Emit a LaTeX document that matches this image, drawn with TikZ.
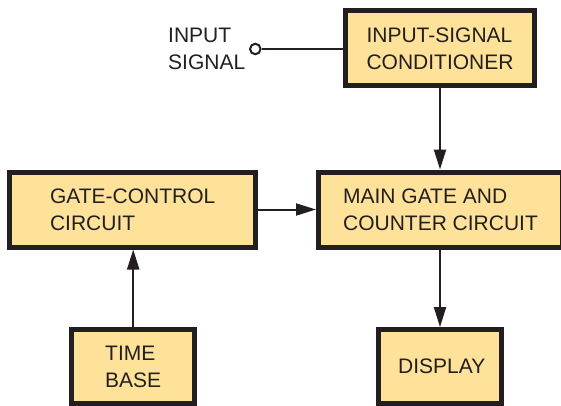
\documentclass[tikz,border=0pt]{standalone}
\usepackage{fontspec}
\setmainfont{Liberation Sans}
\usetikzlibrary{arrows.meta}
\definecolor{boxfill}{RGB}{254,226,153}
\definecolor{ink}{RGB}{35,31,32}
\tikzset{
  blk/.style={draw=ink, line width=5pt, fill=boxfill, inner sep=0pt,
    align=left, text=ink, font=\fontsize{21}{27}\selectfont},
  conn/.style={draw=ink, line width=2pt, -{Triangle[length=20pt,width=12pt]}},
  wire/.style={draw=ink, line width=2pt},
  lbl/.style={text=ink, inner sep=0pt, align=left, font=\fontsize{21}{27}\selectfont}
}
\begin{document}
\begin{tikzpicture}[x=1pt,y=-1pt]
\useasboundingbox (0,0) rectangle (561,406);
\clip (0,0) rectangle (561,406);
\fill[white] (0,0) rectangle (561,406);
\node[blk, minimum width=189pt, minimum height=75pt] (cond) at (440,48.3) {INPUT-SIGNAL\\CONDITIONER};
\node[blk, minimum width=245.5pt, minimum height=75pt] (gate) at (132.7,209.5) {GATE-CONTROL\\CIRCUIT};
\node[blk, minimum width=244pt, minimum height=75pt] (main) at (440.5,209.5) {MAIN GATE AND\\COUNTER CIRCUIT};
\node[blk, minimum width=122.5pt, minimum height=74pt] (time) at (133.2,366.5) {TIME\\BASE};
\node[blk, minimum width=122.5pt, minimum height=73.5pt] (disp) at (439.8,366.3) {\hspace*{4pt}DISPLAY};
\node[lbl, anchor=west] (insig) at (168,48.5) {INPUT\\SIGNAL};
\node[circle, draw=ink, line width=2pt, fill=white, minimum size=10.5pt, inner sep=0pt] (term) at (255.3,49) {};
\draw[wire] (term) -- (term -| cond.west);
\draw[conn] (cond.south) -- (cond.south |- main.north);
\draw[conn] (gate.east) -- (gate.east -| main.west);
\draw[conn] (time.north) -- (gate.south -| time.north);
\draw[conn] (main.south -| cond.south) -- (disp.north -| cond.south);
\end{tikzpicture}
\end{document}
